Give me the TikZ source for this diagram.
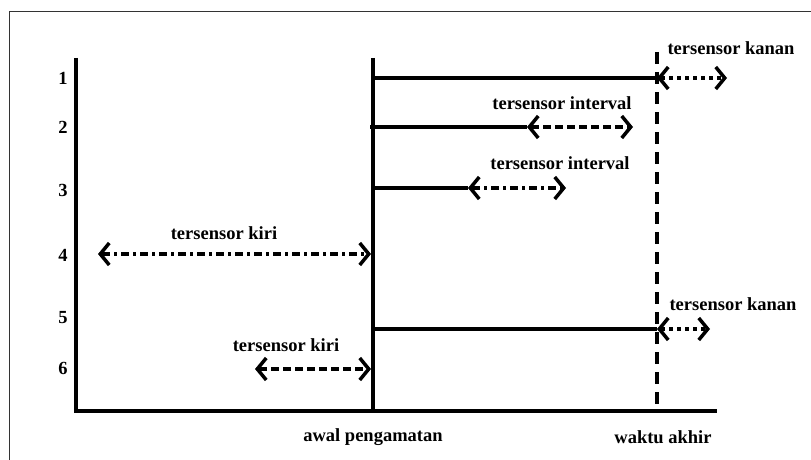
\documentclass[tikz,border=0pt]{standalone}
\usepackage{fontspec}
\setmainfont{Liberation Serif}
\usetikzlibrary{arrows.meta}
\begin{document}
\begin{tikzpicture}[x=1pt,y=-1pt,
  axis/.style={line width=3.5pt},
  spanline/.style={line width=3.5pt},
  barb/.tip={Straight Barb[length=9pt,width=22pt,line width=3.5pt]},
  censor/.style={line width=3.5pt,{barb}-{barb}},
  dotpat/.style={dash pattern=on 4pt off 4pt},
  dashpat/.style={dash pattern=on 8pt off 4pt},
  dashdotpat/.style={dash pattern=on 8pt off 4pt on 3pt off 4pt},
  endline/.style={line width=3.5pt,dash pattern=on 12pt off 8pt},
  lbl/.style={font=\bfseries\fontsize{18.5}{22}\selectfont,inner sep=1pt},
  num/.style={font=\bfseries\fontsize{18.5}{22}\selectfont,inner sep=1pt}]
\useasboundingbox (0,0) rectangle (811,460);
% outer frame
\draw[line width=1pt,black!80] (9,460) -- (9,12) -- (811,12);

% axes and reference lines
\coordinate (ytop) at (76,58);
\coordinate (origin) at (76,411);
\coordinate (xend) at (717,411);
\coordinate (midtop) at (373,58);
\coordinate (midbot) at (373,411);
\coordinate (endtop) at (657,52);
\coordinate (endbot) at (657,411);
\draw[axis] (ytop) -- (origin) -- (xend);
\draw[axis] (midtop) -- (midbot);
\draw[endline] (endtop) -- (endbot);

% row numbers
\node[num] (n1) at (63,78) {1};
\node[num] (n2) at (63,127) {2};
\node[num] (n3) at (63,190) {3};
\node[num] (n4) at (63,255) {4};
\node[num] (n5) at (63,318) {5};
\node[num] (n6) at (63,368) {6};

% row 1: right censored
\coordinate (a1) at (373,78);
\coordinate (b1) at (657,78);
\coordinate (c1) at (727,78);
\draw[spanline] (a1) -- (b1);
\draw[censor,dotpat] (b1) -- (c1);
\node[lbl] (l1) at (731,48) {tersensor kanan};

% row 2: interval censored
\coordinate (a2) at (370,127);
\coordinate (b2) at (527,127);
\coordinate (c2) at (633,127);
\draw[spanline] (a2) -- (b2);
\draw[censor,dashpat] (b2) -- (c2);
\node[lbl] (l2) at (562,103) {tersensor interval};

% row 3: interval censored
\coordinate (a3) at (373,188);
\coordinate (b3) at (468,188);
\coordinate (c3) at (566,188);
\draw[spanline] (a3) -- (b3);
\draw[censor,dashdotpat] (b3) -- (c3);
\node[lbl] (l3) at (560,163) {tersensor interval};

% row 4: left censored
\coordinate (b4) at (98,254);
\coordinate (c4) at (371,254);
\draw[censor,dashdotpat] (b4) -- (c4);
\node[lbl] (l4) at (224,233) {tersensor kiri};

% row 5: right censored
\coordinate (a5) at (373,329);
\coordinate (b5) at (657,329);
\coordinate (c5) at (710,329);
\draw[spanline] (a5) -- (b5);
\draw[censor,dotpat] (b5) -- (c5);
\node[lbl] (l5) at (733,304) {tersensor kanan};

% row 6: left censored
\coordinate (b6) at (255,369);
\coordinate (c6) at (371,369);
\draw[censor,dashpat] (b6) -- (c6);
\node[lbl] (l6) at (286,345) {tersensor kiri};

% axis labels
\node[lbl] (start) at (373,437) {awal pengamatan};
\node[lbl] (finish) at (663,437) {waktu akhir};
\end{tikzpicture}
\end{document}
